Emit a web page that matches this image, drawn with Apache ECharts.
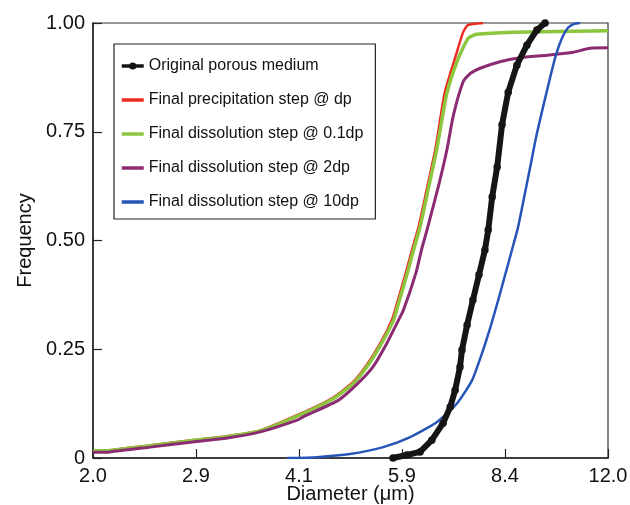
<!DOCTYPE html>
<html>
<head>
<meta charset="utf-8">
<script src="https://cdn.jsdelivr.net/npm/echarts@6/dist/echarts.min.js"></script>
<style>
html,body{margin:0;padding:0;background:#fff;}
#chart{width:630px;height:505px;}
</style>
</head>
<body>
<div id="chart"></div>
<script>
// Tick labels of the log-spaced diameter axis
var xTickLabels = ['2.0', '2.9', '4.1', '5.9', '8.4', '12.0'];
var yTickLabels = ['0', '0.25', '0.50', '0.75', '1.00'];
var seriesNames = [
  'Original porous medium',
  'Final precipitation step @ dp',
  'Final dissolution step @ 0.1dp',
  'Final dissolution step @ 2dp',
  'Final dissolution step @ 10dp'
];

// Original porous medium: diameter (um), frequency
var origD = [5.68, 5.96, 6.24, 6.50, 6.76, 6.93, 7.05, 7.17, 7.22, 7.35, 7.50, 7.66, 7.82, 7.91, 8.02, 8.16, 8.30, 8.48, 8.74, 9.05, 9.37, 9.64];
var origF = [0.000, 0.007, 0.014, 0.041, 0.080, 0.117, 0.156, 0.209, 0.248, 0.306, 0.363, 0.421, 0.478, 0.524, 0.600, 0.669, 0.766, 0.841, 0.903, 0.949, 0.984, 1.000];

// Final precipitation step @ dp
var precD = [2.00, 2.12, 2.43, 2.82, 3.18, 3.57, 4.09, 4.60, 4.93, 5.19, 5.44, 5.66, 5.72, 5.94, 6.07, 6.21, 6.42, 6.58, 6.80, 7.05, 7.25, 7.37, 7.77];
var precF = [0.016, 0.018, 0.029, 0.041, 0.050, 0.063, 0.100, 0.138, 0.173, 0.215, 0.265, 0.318, 0.340, 0.426, 0.479, 0.532, 0.633, 0.709, 0.840, 0.920, 0.979, 0.995, 1.000];

// Final dissolution step @ 0.1dp
var diss01D = [2.00, 2.12, 2.44, 2.83, 3.19, 3.58, 4.11, 4.62, 4.95, 5.21, 5.46, 5.69, 5.75, 5.97, 6.10, 6.24, 6.45, 6.61, 6.85, 7.13, 7.38, 7.60, 8.63, 12.0];
var diss01F = [0.016, 0.017, 0.028, 0.040, 0.049, 0.062, 0.099, 0.137, 0.172, 0.214, 0.264, 0.317, 0.340, 0.425, 0.478, 0.531, 0.632, 0.708, 0.838, 0.919, 0.965, 0.974, 0.979, 0.982];

// Final dissolution step @ 2dp
var diss2D = [2.00, 2.12, 2.44, 2.83, 3.19, 3.58, 4.07, 4.16, 4.70, 5.03, 5.30, 5.56, 5.79, 5.89, 6.15, 6.27, 6.41, 6.67, 6.85, 7.01, 7.25, 7.43, 7.69, 8.24, 8.84, 9.70, 10.64, 11.27, 12.0];
var diss2F = [0.013, 0.014, 0.025, 0.037, 0.046, 0.060, 0.087, 0.095, 0.133, 0.172, 0.210, 0.264, 0.317, 0.340, 0.425, 0.478, 0.531, 0.632, 0.708, 0.789, 0.865, 0.884, 0.896, 0.911, 0.920, 0.926, 0.933, 0.942, 0.943];

// Final dissolution step @ 10dp
var diss10D = [3.93, 4.36, 4.89, 5.49, 6.03, 6.62, 7.10, 7.48, 7.77, 7.99, 8.19, 8.39, 8.59, 8.77, 8.96, 9.15, 9.34, 9.57, 9.81, 10.01, 10.23, 10.44, 10.66, 10.89];
var diss10F = [0.000, 0.002, 0.009, 0.025, 0.048, 0.083, 0.126, 0.179, 0.248, 0.306, 0.363, 0.421, 0.478, 0.529, 0.598, 0.667, 0.736, 0.806, 0.874, 0.926, 0.966, 0.989, 0.998, 1.000];

// log-spaced axis: position index = log base (12/2)^(1/5) of d/2
function xPos(d) { return Math.log(d / 2) / Math.log(6) * 5; }
function pairs(ds, fs) { return ds.map(function (d, i) { return [xPos(d), fs[i]]; }); }

var FONT = '"Liberation Sans", Arial, sans-serif';
var hidden = {opacity: 0};
var chart = echarts.init(document.getElementById('chart'), null, {renderer: 'canvas'});
chart.setOption({
  animation: false,
  backgroundColor: '#fff',
  grid: {left: 93, right: 22, top: 23, bottom: 47, show: true, borderColor: '#333', borderWidth: 1.2,
    containLabel: false, outerBoundsMode: 'none'},
  legend: {
    orient: 'vertical', left: 114, top: 44,
    data: [
      {name: seriesNames[0]},
      {name: seriesNames[1], itemStyle: hidden},
      {name: seriesNames[2], itemStyle: hidden},
      {name: seriesNames[3], itemStyle: hidden},
      {name: seriesNames[4], itemStyle: hidden}
    ],
    itemWidth: 22, itemHeight: 9, itemGap: 18,
    padding: [14, 12, 9, 6],
    lineStyle: {width: 3.5},
    borderColor: '#222', borderWidth: 1.2,
    backgroundColor: '#fff',
    textStyle: {fontFamily: FONT, fontSize: 16, color: '#111'}
  },
  xAxis: {
    type: 'value', min: 0, max: 5, interval: 1,
    name: 'Diameter (\u03bcm)', nameLocation: 'middle', nameGap: 26, nameMoveOverlap: false,
    nameTextStyle: {fontFamily: FONT, fontSize: 20, color: '#111'},
    axisLine: {lineStyle: {color: '#222', width: 1.5}},
    axisTick: {inside: true, length: 9, lineStyle: {color: '#222', width: 1.2}},
    axisLabel: {fontFamily: FONT, fontSize: 20, color: '#111', margin: 8,
      formatter: function (v) { return xTickLabels[Math.round(v)]; }},
    splitLine: {show: false}
  },
  yAxis: {
    type: 'value', min: 0, max: 1, interval: 0.25,
    name: 'Frequency', nameLocation: 'middle', nameGap: 58, nameMoveOverlap: false,
    nameTextStyle: {fontFamily: FONT, fontSize: 20, color: '#111'},
    axisLine: {lineStyle: {color: '#222', width: 1.5}},
    axisTick: {inside: true, length: 9, lineStyle: {color: '#222', width: 1.2}},
    axisLabel: {fontFamily: FONT, fontSize: 20, color: '#111', margin: 8,
      formatter: function (v) { return yTickLabels[Math.round(v * 4)]; }},
    splitLine: {show: false}
  },
  series: [
    {name: seriesNames[1], type: 'line', data: pairs(precD, precF), showSymbol: false, symbol: 'none',
      smooth: 0.2,
      lineStyle: {color: '#ee2b22', width: 2.5}, itemStyle: {color: '#ee2b22'}, z: 2},
    {name: seriesNames[2], type: 'line', data: pairs(diss01D, diss01F), showSymbol: false, symbol: 'none',
      smooth: 0.2,
      lineStyle: {color: '#8cc63e', width: 3.5}, itemStyle: {color: '#8cc63e'}, z: 3},
    {name: seriesNames[3], type: 'line', data: pairs(diss2D, diss2F), showSymbol: false, symbol: 'none',
      smooth: 0.2,
      lineStyle: {color: '#8b2c72', width: 3}, itemStyle: {color: '#8b2c72'}, z: 4},
    {name: seriesNames[4], type: 'line', data: pairs(diss10D, diss10F), showSymbol: false, symbol: 'none',
      smooth: 0.2,
      lineStyle: {color: '#2755b7', width: 2.5}, itemStyle: {color: '#2755b7'}, z: 5},
    {name: seriesNames[0], type: 'line', data: pairs(origD, origF), symbol: 'circle', symbolSize: 7.5, showSymbol: true,
      lineStyle: {color: '#151515', width: 6}, itemStyle: {color: '#151515'}, z: 6}
  ]
});
</script>
</body>
</html>
